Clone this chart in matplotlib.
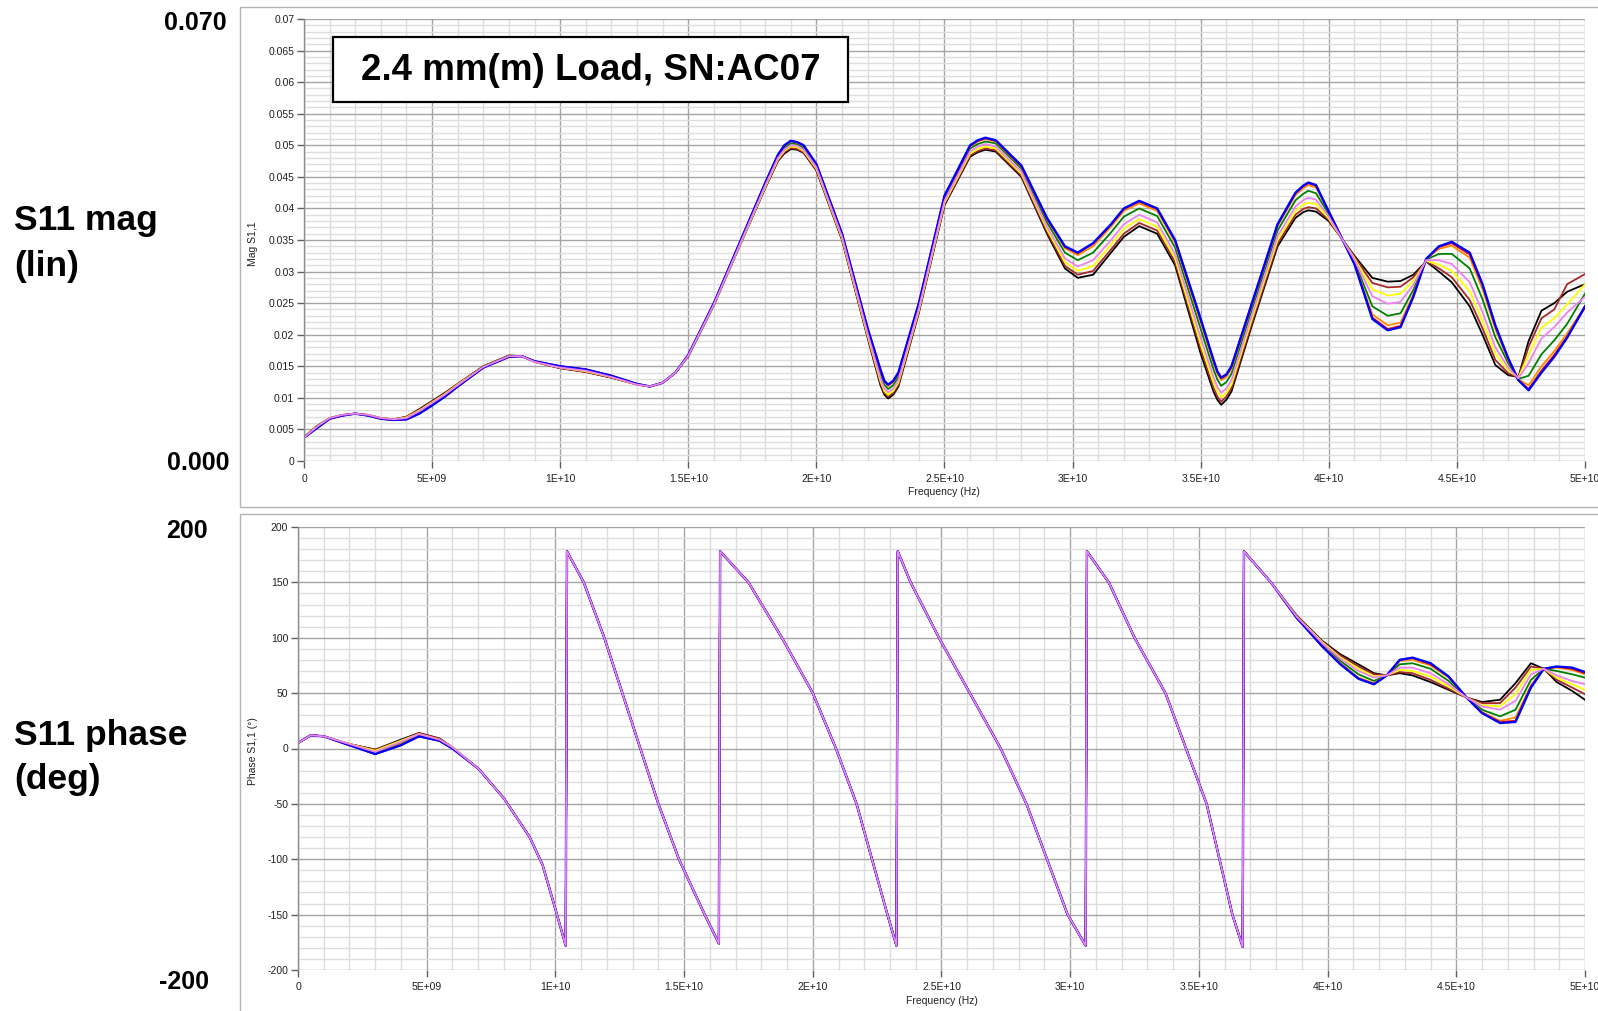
import numpy as np
import matplotlib
matplotlib.use("Agg")
import matplotlib.pyplot as plt
from matplotlib.patches import Rectangle
from matplotlib.ticker import MultipleLocator, FixedLocator, FixedFormatter

plt.rcParams['font.family'] = ['Liberation Sans', 'DejaVu Sans']

W, H = 1598, 1011

# ---------------- data ----------------
SERIES = ["black", "brown", "yellow", "green", "orange", "red", "blue", "violet"]
COLORS = {"black": "#000000", "brown": "#a52a2a", "yellow": "#ffff00", "green": "#008000",
          "orange": "#ff8c00", "red": "#ff0000", "blue": "#0000ff", "violet": "#ee82ee"}

# frequency grid for magnitude (GHz)
F_MAG = [0, 0.5, 1, 1.5, 2, 2.5, 3, 3.5, 4, 4.5, 5, 5.5, 6,
         7, 8, 8.5, 9, 10, 11, 12, 13, 13.5, 14, 14.5, 15, 16, 17,
         18, 18.5, 18.75, 19, 19.25, 19.5, 20, 21, 22, 22.5, 22.65, 22.8, 23.0, 23.2, 24,
         25, 26, 26.3, 26.6, 27, 28, 29, 29.7, 30.2, 30.8, 31.5, 32, 32.6, 33.3, 34,
         35, 35.5, 35.65, 35.8, 36.0, 36.2, 37, 38, 38.7, 39.0, 39.2, 39.5, 40,
         41, 41.7, 42.3, 42.8, 43.3, 43.8, 44.3, 44.8, 45.5, 46, 46.5, 47, 47.4, 47.8, 48.3, 48.8, 49.3, 50]

# |S11| values in units of 1e-4
MAG_BLUE = [37, 52, 67, 72, 75, 72, 67, 65, 66, 75, 88, 102, 118,
            148, 165, 166, 158, 150, 145, 135, 122, 118, 124, 140, 168, 250, 345,
            440, 485, 500, 507, 505, 500, 470, 360, 210, 145, 127, 121, 127, 140, 250,
            420, 500, 508, 512, 508, 468, 385, 340, 330, 345, 375, 400, 412, 400, 350,
            225, 160, 142, 132, 137, 150, 250, 375, 425, 436, 441, 437, 395,
            312, 225, 207, 212, 260, 320, 340, 347, 330, 280, 215, 163, 128, 112, 140, 165, 195, 245]
MAG_RED = [37, 52, 67, 72, 75, 72, 67, 65, 66, 75, 88, 102, 118,
           148, 165, 166, 158, 150, 145, 135, 122, 118, 124, 140, 168, 250, 345,
           440, 485, 500, 507, 505, 500, 470, 360, 210, 144, 127, 120, 126, 139, 250,
           420, 499, 507, 511, 507, 467, 384, 339, 329, 344, 374, 399, 411, 399, 349,
           223, 159, 141, 131, 136, 149, 249, 374, 424, 435, 440, 436, 395,
           312, 227, 209, 214, 261, 320, 339, 345, 327, 278, 213, 162, 128, 114, 143, 168, 197, 243]
MAG_ORANGE = [37, 52, 67, 72, 75, 72, 67, 65, 66, 76, 89, 103, 118,
              148, 165, 166, 158, 150, 145, 135, 122, 118, 124, 140, 168, 250, 345,
              440, 484, 499, 506, 504, 499, 469, 359, 209, 143, 126, 119, 125, 138, 249,
              419, 498, 506, 510, 506, 466, 383, 337, 326, 340, 371, 396, 408, 396, 346,
              220, 155, 138, 128, 133, 146, 247, 372, 421, 432, 437, 433, 395,
              313, 232, 215, 219, 264, 320, 336, 341, 322, 272, 209, 160, 129, 120, 150, 174, 202, 245]
MAG_GREEN = [37, 53, 67, 72, 75, 72, 67, 65, 67, 77, 90, 104, 119,
             149, 166, 166, 158, 149, 144, 134, 122, 118, 124, 140, 167, 249, 344,
             438, 482, 496, 503, 502, 496, 467, 357, 206, 138, 121, 114, 120, 133, 246,
             416, 495, 502, 506, 503, 463, 378, 330, 318, 330, 362, 387, 400, 388, 338,
             209, 145, 129, 119, 125, 138, 240, 365, 413, 423, 428, 424, 391,
             316, 245, 230, 234, 271, 319, 328, 328, 305, 256, 196, 155, 130, 135, 169, 191, 217, 265]
MAG_VIOLET = [37, 54, 68, 73, 75, 73, 68, 66, 68, 79, 92, 105, 120,
              149, 166, 166, 157, 148, 143, 133, 121, 118, 124, 140, 167, 248, 342,
              436, 480, 493, 500, 499, 493, 465, 355, 202, 131, 115, 109, 115, 128, 242,
              412, 490, 498, 502, 498, 458, 371, 321, 308, 318, 350, 375, 390, 378, 328,
              195, 133, 117, 108, 115, 128, 231, 356, 403, 413, 417, 414, 387,
              319, 261, 249, 252, 279, 318, 318, 312, 283, 236, 180, 148, 131, 155, 194, 212, 235, 260]
MAG_YELLOW = [38, 54, 68, 73, 75, 73, 68, 66, 69, 80, 93, 106, 121,
              149, 166, 166, 157, 148, 142, 133, 121, 118, 124, 140, 167, 248, 341,
              434, 478, 491, 498, 497, 491, 463, 353, 199, 127, 111, 105, 111, 124, 239,
              409, 487, 494, 498, 495, 455, 367, 315, 301, 309, 343, 368, 383, 371, 321,
              185, 124, 110, 101, 108, 121, 225, 350, 396, 406, 409, 407, 384,
              321, 272, 262, 265, 285, 317, 311, 301, 269, 222, 170, 144, 132, 168, 211, 226, 248, 280]
MAG_BROWN = [38, 55, 68, 73, 75, 73, 68, 66, 70, 81, 94, 107, 122,
             150, 167, 166, 157, 147, 141, 132, 121, 118, 124, 140, 166, 247, 341,
             433, 476, 489, 496, 494, 489, 461, 351, 197, 123, 108, 102, 108, 121, 237,
             407, 484, 491, 495, 492, 452, 363, 309, 295, 301, 335, 360, 377, 365, 315,
             177, 116, 102, 94, 102, 115, 219, 344, 390, 399, 402, 400, 382,
             323, 282, 275, 276, 291, 316, 305, 291, 255, 210, 160, 139, 132, 181, 226, 240, 280, 296]
MAG_BLACK = [38, 55, 68, 73, 75, 73, 68, 66, 70, 82, 95, 108, 122,
             150, 167, 166, 157, 147, 141, 132, 121, 118, 124, 140, 166, 247, 340,
             432, 475, 487, 494, 493, 488, 460, 350, 195, 120, 105, 99, 105, 118, 235,
             405, 482, 489, 493, 490, 450, 360, 305, 290, 295, 330, 355, 372, 360, 310,
             170, 110, 97, 89, 97, 110, 215, 340, 385, 394, 397, 395, 380,
             325, 290, 284, 285, 295, 316, 300, 283, 245, 200, 152, 136, 133, 190, 238, 250, 268, 280]

# frequency grid for phase (GHz): head (per series), shared middle, tail (per series)
F_PH_HEAD = [0, 0.5, 1, 2, 3, 4, 4.7, 5.5, 6]
F_PH_MID = [7, 8, 9, 9.5, 10, 10.4, 10.45, 11.1, 11.9, 12.6, 13.3, 14.0, 14.8, 15.8, 16.35, 16.4,
            17.5, 18.8, 20.0, 20.9, 21.7, 22.3, 22.9, 23.25, 23.3, 23.8, 24.9, 26.1, 27.3, 28.3, 29.1,
            29.9, 30.6, 30.65, 31.5, 32.5, 33.7, 34.5, 35.3, 35.8, 36.3, 36.7, 36.75, 37.8]
F_PH_TAIL = [38.8, 39.8, 40.5, 41.2, 41.8, 42.3, 42.8, 43.3, 44.0, 44.7, 45.4, 46.0, 46.7, 47.3,
             47.9, 48.4, 48.9, 49.5, 50]

PH_MID = [-18, -45, -80, -105, -145, -178, 178, 150, 100, 50, 0, -50, -100, -150, -176, 178,
          150, 100, 50, 0, -50, -100, -150, -178, 178, 150, 100, 50, 0, -50, -100,
          -150, -178, 178, 150, 100, 50, 0, -50, -100, -150, -179, 178, 150]

PH_HEAD = {
    "blue":   [5, 12, 11, 3, -5, 3, 11, 7, 0],
    "red":    [5, 12, 11, 3, -5, 3, 11, 7, 0],
    "orange": [5, 12, 11, 3, -5, 4, 11, 7, 0],
    "green":  [5, 12, 11, 3, -4, 5, 12, 8, 0],
    "violet": [5, 12, 11, 4, -3, 6, 13, 8, 1],
    "yellow": [5, 12, 11, 4, -2, 7, 13, 8, 1],
    "brown":  [5, 12, 11, 4, -1, 7, 14, 9, 1],
    "black":  [5, 12, 11, 4, -1, 8, 14, 9, 1],
}
PH_TAIL = {
    "blue":   [118, 92, 76, 63, 58, 66, 80, 82, 77, 65, 46, 32, 23, 24, 55, 72, 74, 73, 69],
    "red":    [118, 92, 76, 63, 58, 66, 80, 82, 76, 65, 46, 32, 24, 25, 56, 72, 74, 72, 68],
    "orange": [118, 93, 77, 64, 59, 66, 79, 80, 75, 64, 46, 33, 25, 28, 57, 72, 73, 71, 67],
    "green":  [119, 94, 79, 67, 61, 66, 76, 77, 72, 61, 46, 35, 29, 35, 62, 72, 70, 67, 64],
    "violet": [119, 95, 81, 70, 64, 66, 73, 73, 68, 58, 46, 38, 35, 43, 67, 72, 66, 61, 58],
    "yellow": [119, 96, 82, 72, 65, 66, 71, 70, 65, 56, 46, 39, 38, 49, 71, 72, 64, 58, 53],
    "brown":  [120, 96, 84, 74, 67, 66, 69, 68, 62, 54, 46, 41, 41, 55, 74, 72, 62, 55, 49],
    "black":  [120, 97, 85, 76, 68, 66, 68, 66, 60, 53, 46, 42, 44, 59, 77, 72, 60, 52, 44],
}

MAG = {"blue": MAG_BLUE, "red": MAG_RED, "orange": MAG_ORANGE, "green": MAG_GREEN,
       "violet": MAG_VIOLET, "yellow": MAG_YELLOW, "brown": MAG_BROWN, "black": MAG_BLACK}

X_TICKS = [0, 5e9, 1e10, 1.5e10, 2e10, 2.5e10, 3e10, 3.5e10, 4e10, 4.5e10, 5e10]
X_TICKLABELS = ["0", "5E+09", "1E+10", "1.5E+10", "2E+10", "2.5E+10", "3E+10", "3.5E+10",
                "4E+10", "4.5E+10", "5E+10"]
MAG_TICKS = [0, 0.005, 0.01, 0.015, 0.02, 0.025, 0.03, 0.035, 0.04, 0.045, 0.05, 0.055, 0.06, 0.065, 0.07]
MAG_TICKLABELS = ["0", "0.005", "0.01", "0.015", "0.02", "0.025", "0.03", "0.035", "0.04", "0.045",
                  "0.05", "0.055", "0.06", "0.065", "0.07"]
PH_TICKS = [-200, -150, -100, -50, 0, 50, 100, 150, 200]
PH_TICKLABELS = ["-200", "-150", "-100", "-50", "0", "50", "100", "150", "200"]

TITLE = "2.4 mm(m) Load, SN:AC07"

# ---------------- figure ----------------
fig = plt.figure(figsize=(W / 100, H / 100), dpi=100)


def fx(x):
    return x / W


def fy(y):
    return 1 - y / H


def axes_px(l, t, r, b):
    return fig.add_axes([fx(l), fy(b), fx(r) - fx(l), (b - t) / H])


# panel frames
for (l, t, r, b) in [(240, 7, 1700, 507), (240, 514, 1700, 1100)]:
    fig.add_artist(Rectangle((fx(l), fy(b)), fx(r) - fx(l), (b - t) / H, transform=fig.transFigure,
                             fill=False, edgecolor="#b4b4b4", lw=1.0, zorder=-1))

ax1 = axes_px(304, 19, 1585, 461)
ax2 = axes_px(298, 527, 1585, 970)

TICK_COLOR = "#202020"


def style(ax, yticks, ylabels, ymin, ymax, yminor):
    ax.set_xlim(0, 5e10)
    ax.set_ylim(ymin, ymax)
    ax.xaxis.set_major_locator(FixedLocator(X_TICKS))
    ax.xaxis.set_major_formatter(FixedFormatter(X_TICKLABELS))
    ax.xaxis.set_minor_locator(MultipleLocator(1e9))
    ax.yaxis.set_major_locator(FixedLocator(yticks))
    ax.yaxis.set_major_formatter(FixedFormatter(ylabels))
    ax.yaxis.set_minor_locator(MultipleLocator(yminor))
    ax.set_axisbelow(True)
    ax.grid(which="minor", color="#dedede", lw=1.0)
    ax.grid(which="major", color="#a4a4a4", lw=1.0)
    for s in ["top", "right", "bottom"]:
        ax.spines[s].set_visible(False)
    ax.spines["left"].set_color("#8c8c8c")
    ax.spines["left"].set_linewidth(1.0)
    ax.tick_params(which="minor", length=0)
    ax.tick_params(axis="y", which="major", length=5, width=1, color="#606060", pad=2,
                   labelsize=7.5, labelcolor=TICK_COLOR)
    ax.tick_params(axis="x", which="major", length=5, width=1, color="#606060", pad=4,
                   labelsize=7.5, labelcolor=TICK_COLOR)
    ax.patch.set_facecolor("white")


style(ax1, MAG_TICKS, MAG_TICKLABELS, 0, 0.07, 0.001)
style(ax2, PH_TICKS, PH_TICKLABELS, -200, 200, 10)

f_mag_hz = np.array(F_MAG) * 1e9
for name in SERIES:
    lw = 1.7 if name == "blue" else 1.3
    vals = np.array(MAG[name]) * 1e-4
    n = min(len(f_mag_hz), len(vals))
    ax1.plot(f_mag_hz[:n], vals[:n], color=COLORS[name], lw=lw)

f_ph_hz = np.array(F_PH_HEAD + F_PH_MID + F_PH_TAIL) * 1e9
for name in SERIES:
    lw = 1.7 if name == "blue" else 1.3
    vals = np.array(PH_HEAD[name] + PH_MID + PH_TAIL[name])
    n = min(len(f_ph_hz), len(vals))
    ax2.plot(f_ph_hz[:n], vals[:n], color=COLORS[name], lw=lw)

# axis labels (small)
fig.text(fx(944), fy(492), "Frequency (Hz)", ha="center", va="center", fontsize=7.5, color=TICK_COLOR)
fig.text(fx(941.5), fy(1001), "Frequency (Hz)", ha="center", va="center", fontsize=7.5, color=TICK_COLOR)
fig.text(fx(253), fy(244), "Mag S1,1", ha="center", va="center", rotation=90, fontsize=7.5, color=TICK_COLOR)
fig.text(fx(253), fy(751), "Phase S1,1 (°)", ha="center", va="center", rotation=90, fontsize=7.5,
         color=TICK_COLOR)

# big annotations on the left
BIG = dict(fontweight="bold", color="black")
fig.text(fx(227), fy(22.5), "0.070", ha="right", va="center", fontsize=18, **BIG)
fig.text(fx(230), fy(463), "0.000", ha="right", va="center", fontsize=18, **BIG)
fig.text(fx(208), fy(531), "200", ha="right", va="center", fontsize=18, **BIG)
fig.text(fx(209), fy(982), "-200", ha="right", va="center", fontsize=18, **BIG)
fig.text(fx(14), fy(230), "S11 mag", ha="left", va="baseline", fontsize=25.5, **BIG)
fig.text(fx(14), fy(276), "(lin)", ha="left", va="baseline", fontsize=25.5, **BIG)
fig.text(fx(14), fy(745), "S11 phase", ha="left", va="baseline", fontsize=25.5, **BIG)
fig.text(fx(14), fy(789), "(deg)", ha="left", va="baseline", fontsize=25.5, **BIG)

# title box
fig.add_artist(Rectangle((fx(333), fy(102)), fx(848) - fx(333), (102 - 37) / H, transform=fig.transFigure,
                         facecolor="white", edgecolor="black", lw=1.6, zorder=5))
fig.text(fx(590.5), fy(70), TITLE, ha="center", va="center", fontsize=26.5, fontweight="bold",
         color="black", zorder=6)

fig.savefig("out.png", dpi=100)
